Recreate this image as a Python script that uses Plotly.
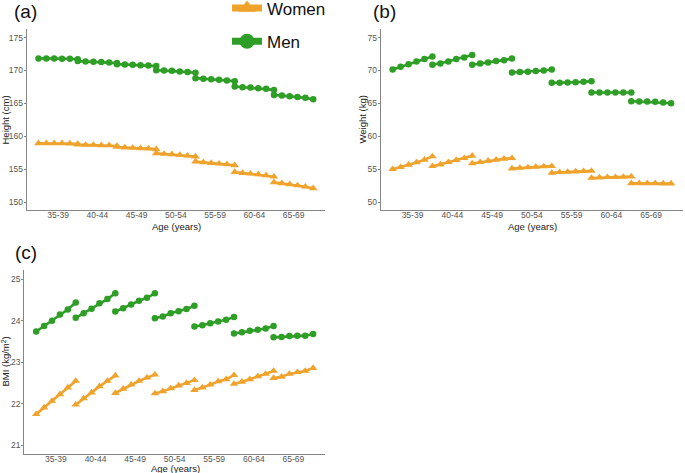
import plotly.graph_objects as go

age_groups = ["35-39", "40-44", "45-49", "50-54", "55-59", "60-64", "65-69"]

height_women = [
    [158.94, 158.94, 158.94, 158.94, 158.89, 158.84],
    [158.74, 158.69, 158.69, 158.63, 158.63, 158.53],
    [158.38, 158.28, 158.23, 158.18, 158.13, 158.03],
    [157.42, 157.31, 157.26, 157.16, 157.06, 156.91],
    [156.15, 156.05, 155.94, 155.84, 155.74, 155.59],
    [154.57, 154.42, 154.32, 154.22, 154.07, 153.86],
    [153.00, 152.85, 152.70, 152.54, 152.34, 152.09],
]
height_men = [
    [171.83, 171.83, 171.80, 171.78, 171.77, 171.70],
    [171.42, 171.37, 171.32, 171.27, 171.22, 171.12],
    [170.96, 170.91, 170.86, 170.81, 170.76, 170.66],
    [170.05, 170.00, 169.95, 169.85, 169.75, 169.64],
    [168.83, 168.73, 168.68, 168.58, 168.48, 168.38],
    [167.56, 167.46, 167.41, 167.31, 167.21, 167.05],
    [166.29, 166.19, 166.09, 165.98, 165.84, 165.63],
]
weight_women = [
    [55.00, 55.31, 55.66, 56.02, 56.43, 56.94],
    [55.46, 55.71, 56.07, 56.38, 56.68, 57.04],
    [55.87, 56.07, 56.28, 56.43, 56.58, 56.68],
    [55.10, 55.20, 55.26, 55.36, 55.41, 55.46],
    [54.44, 54.54, 54.59, 54.64, 54.69, 54.74],
    [53.67, 53.72, 53.78, 53.78, 53.83, 53.88],
    [52.86, 52.86, 52.86, 52.86, 52.81, 52.81],
]
weight_men = [
    [70.15, 70.56, 70.96, 71.37, 71.73, 72.13],
    [70.86, 71.07, 71.37, 71.73, 71.98, 72.34],
    [70.86, 71.07, 71.22, 71.42, 71.57, 71.83],
    [69.70, 69.75, 69.80, 69.90, 70.00, 70.15],
    [68.12, 68.12, 68.17, 68.22, 68.27, 68.38],
    [66.65, 66.65, 66.65, 66.65, 66.65, 66.65],
    [65.33, 65.28, 65.28, 65.23, 65.13, 65.03],
]
bmi_women = [
    [21.75, 21.91, 22.07, 22.23, 22.39, 22.55],
    [21.98, 22.13, 22.27, 22.42, 22.55, 22.68],
    [22.26, 22.36, 22.46, 22.55, 22.63, 22.70],
    [22.25, 22.30, 22.37, 22.44, 22.50, 22.57],
    [22.33, 22.39, 22.46, 22.54, 22.59, 22.69],
    [22.48, 22.53, 22.59, 22.66, 22.72, 22.79],
    [22.62, 22.65, 22.72, 22.76, 22.79, 22.86],
]
bmi_men = [
    [23.74, 23.87, 24.00, 24.15, 24.27, 24.44],
    [24.07, 24.18, 24.29, 24.42, 24.52, 24.66],
    [24.22, 24.30, 24.39, 24.48, 24.55, 24.66],
    [24.06, 24.10, 24.18, 24.23, 24.28, 24.36],
    [23.86, 23.89, 23.94, 23.98, 24.02, 24.09],
    [23.69, 23.72, 23.76, 23.78, 23.81, 23.87],
    [23.60, 23.61, 23.63, 23.64, 23.64, 23.68],
]

WOMEN = "#EFA32C"
MEN = "#2E9E26"
FONT = "Liberation Sans"


def flatten(groups):
    xs, ys = [], []
    for g, vals in enumerate(groups):
        for k, v in enumerate(vals):
            xs.append(5 * g + k)
            ys.append(v)
        xs.append(None)
        ys.append(None)
    return xs, ys


fig = go.Figure()

panels = [
    ("x", "y", height_women, height_men),
    ("x2", "y2", weight_women, weight_men),
    ("x3", "y3", bmi_women, bmi_men),
]
for xa, ya, w, m in panels:
    xs, ys = flatten(m)
    fig.add_trace(go.Scatter(x=xs, y=ys, xaxis=xa, yaxis=ya, mode="lines+markers",
                             line=dict(color=MEN, width=2.6),
                             marker=dict(symbol="circle", size=6.5, color=MEN),
                             showlegend=False, connectgaps=False))
    xs, ys = flatten(w)
    fig.add_trace(go.Scatter(x=xs, y=ys, xaxis=xa, yaxis=ya, mode="lines+markers",
                             line=dict(color=WOMEN, width=2.6),
                             marker=dict(symbol="triangle-up", size=7.5, color=WOMEN),
                             showlegend=False, connectgaps=False))

# legend-only entries
fig.add_trace(go.Scatter(x=[None], y=[None], mode="lines+markers", name="Women",
                         line=dict(color=WOMEN, width=7),
                         marker=dict(symbol="triangle-up", size=15, color=WOMEN),
                         legendgroup="w", legendrank=1))
fig.add_trace(go.Scatter(x=[None], y=[None], mode="lines+markers", name="Men",
                         line=dict(color=MEN, width=7),
                         marker=dict(symbol="circle", size=15, color=MEN),
                         legendgroup="m", legendrank=2))

W, H = 685, 473


def xd(a, b):
    return [a / W, b / W]


def yd(top, bottom):
    return [1 - bottom / H, 1 - top / H]


tickvals = [5 * g + 2.5 for g in range(len(age_groups))]
common_x = dict(range=[-1.5, 36.5], tickvals=tickvals, ticktext=age_groups,
                showline=True, linecolor="#858585", linewidth=1.2, ticks="",
                showgrid=False, zeroline=False,
                automargin=False, ticklabelstandoff=-3,
                tickfont=dict(size=8.5, color="#555555", family=FONT))
common_y = dict(showline=True, linecolor="#858585", linewidth=1.2, ticks="outside",
                ticklen=2, tickcolor="#858585", showgrid=False, zeroline=False,
                automargin=False, ticklabelstandoff=-1,
                tickfont=dict(size=8.5, color="#555555", family=FONT))

fig.update_layout(
    width=W, height=H,
    margin=dict(l=0, r=0, t=0, b=0, autoexpand=False),
    paper_bgcolor="white", plot_bgcolor="white",
    font=dict(family=FONT),
    xaxis=dict(domain=xd(26.7, 325), anchor="y", **common_x),
    yaxis=dict(domain=yd(29, 210), anchor="x", range=[148.8, 176.3],
               tickvals=[150, 155, 160, 165, 170, 175], **common_y),
    xaxis2=dict(domain=xd(380.7, 683), anchor="y2", **common_x),
    yaxis2=dict(domain=yd(29, 210), anchor="x2", range=[48.8, 76.3],
                tickvals=[50, 55, 60, 65, 70, 75], **common_y),
    xaxis3=dict(domain=xd(24.3, 325), anchor="y3", **common_x),
    yaxis3=dict(domain=yd(270, 453.7), anchor="x3", range=[20.8, 25.22],
                tickvals=[21, 22, 23, 24, 25], **common_y),
    legend=dict(x=227 / W, y=1.02, xanchor="left", yanchor="top",
                font=dict(size=17, color="#111111", family=FONT),
                tracegroupgap=8, bgcolor="rgba(0,0,0,0)", itemwidth=30),
    showlegend=True,
)

# panel letters
for txt, x, y in [("(a)", 12, 12), ("(b)", 371, 12), ("(c)", 13, 253)]:
    fig.add_annotation(text=txt, x=x / W, y=1 - y / H, xref="paper", yref="paper",
                       xanchor="left", yanchor="middle", showarrow=False,
                       font=dict(size=19, color="#111111", family=FONT))

# axis titles
title_font = dict(size=9.5, color="#222222", family=FONT)
for txt, x, y, ang in [
    ("Age (years)", 176.7, 226.5, 0),
    ("Age (years)", 532, 226.5, 0),
    ("Age (years)", 175.3, 468.5, 0),
    ("Height (cm)", 4.5, 120, -90),
    ("Weight (kg)", 361.5, 120, -90),
    ("BMI (kg/m<sup>2</sup>)", 5.5, 362, -90),
]:
    fig.add_annotation(text=txt, x=x / W, y=1 - y / H, xref="paper", yref="paper",
                       xanchor="center", yanchor="middle", showarrow=False,
                       textangle=ang, font=title_font)

fig.write_html("out.html", config={"displayModeBar": False},
               post_script="document.body.style.margin='0px';")
